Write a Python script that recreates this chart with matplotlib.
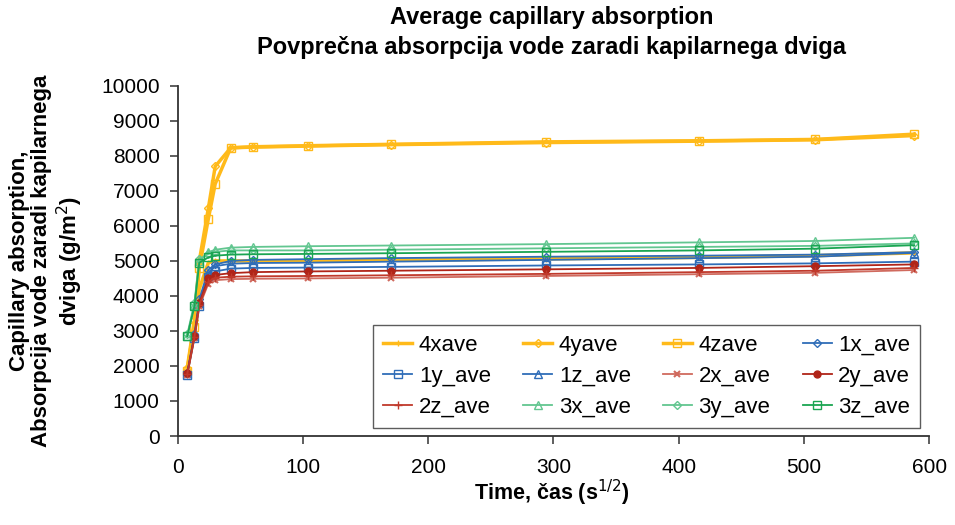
import numpy as np
import matplotlib.pyplot as plt

plt.rcParams['font.family'] = ['Liberation Sans', 'DejaVu Sans']

# time, sqrt(s)
t = [7.7, 13.4, 17.3, 24.5, 30, 42.4, 60, 104, 170, 294, 416, 509, 588]

s_4x = [1900, 3200, 4200, 4950, 5000, 5000, 5000, 5000, 5020, 5060, 5100, 5150, 5230]
s_4y = [1950, 3300, 5000, 6500, 7700, 8230, 8250, 8280, 8320, 8380, 8420, 8460, 8580]
s_4z = [1850, 3100, 4800, 6200, 7200, 8230, 8260, 8290, 8330, 8400, 8430, 8470, 8620]
s_1x = [1800, 2900, 3900, 4750, 4900, 5000, 5030, 5050, 5080, 5120, 5150, 5180, 5250]
s_1y = [1750, 2800, 3700, 4550, 4700, 4780, 4800, 4810, 4830, 4870, 4900, 4930, 4980]
s_1z = [1800, 2850, 3800, 4650, 4850, 4920, 4940, 4950, 4980, 5030, 5080, 5120, 5230]
s_2x = [1750, 2800, 3700, 4350, 4450, 4480, 4490, 4500, 4520, 4570, 4620, 4660, 4740]
s_2y = [1800, 2850, 3800, 4500, 4600, 4650, 4680, 4700, 4720, 4760, 4800, 4850, 4900]
s_2z = [1780, 2820, 3750, 4400, 4520, 4550, 4560, 4570, 4590, 4630, 4680, 4720, 4800]
s_3x = [2850, 3750, 5000, 5250, 5320, 5380, 5400, 5420, 5440, 5480, 5530, 5570, 5660]
s_3y = [2900, 3800, 5050, 5200, 5260, 5300, 5300, 5300, 5320, 5360, 5400, 5430, 5500]
s_3z = [2850, 3700, 4950, 5100, 5150, 5180, 5190, 5200, 5220, 5260, 5300, 5350, 5450]

names = ['4xave', '4yave', '4zave', '1x_ave', '1y_ave', '1z_ave',
         '2x_ave', '2y_ave', '2z_ave', '3x_ave', '3y_ave', '3z_ave']
series = [s_4x, s_4y, s_4z, s_1x, s_1y, s_1z, s_2x, s_2y, s_2z, s_3x, s_3y, s_3z]

orange = '#FFBA1A'
blue = '#2F6DB8'
red = '#C0392B'
green = '#1AA552'
lgreen = '#62C690'
styles = [
    dict(color=orange, lw=2.5, marker='|', ms=4),
    dict(color=orange, lw=2.5, marker='D', ms=4, mfc='none'),
    dict(color=orange, lw=2.5, marker='s', ms=6, mfc='none'),
    dict(color=blue, lw=1.3, marker='D', ms=4, mfc='none'),
    dict(color=blue, lw=1.3, marker='s', ms=6, mfc='none'),
    dict(color=blue, lw=1.3, marker='^', ms=6, mfc='none'),
    dict(color='#D06A5E', lw=1.3, marker='x', ms=4, mew=1.5),
    dict(color='#B02418', lw=1.3, marker='o', ms=5),
    dict(color=red, lw=1.3, marker='+', ms=6),
    dict(color=lgreen, lw=1.3, marker='^', ms=6, mfc='none'),
    dict(color=lgreen, lw=1.3, marker='D', ms=4, mfc='none'),
    dict(color=green, lw=1.3, marker='s', ms=6, mfc='none'),
]

fig = plt.figure(figsize=(9.55, 5.25), dpi=100)
ax = fig.add_axes([0.186, 0.1695, 0.787, 0.667])

handles = []
for name, s, st in zip(names, series, styles):
    h, = ax.plot(t, s, label=name, **st)
    handles.append(h)

ax.set_xlim(0, 600)
ax.set_ylim(0, 10000)
ax.set_xticks(np.arange(0, 601, 100))
ax.set_yticks(np.arange(0, 10001, 1000))
ax.spines['top'].set_visible(False)
ax.spines['right'].set_visible(False)
for sp in ['left', 'bottom']:
    ax.spines[sp].set_color('#333333')
    ax.spines[sp].set_linewidth(1.3)
ax.tick_params(labelsize=15, length=6, width=1.1, color='#333333')
ax.tick_params(axis='x', pad=10)
ax.tick_params(axis='y', pad=7)

fig.text(0.578, 0.061, 'Time, čas (s$^{1/2}$)', ha='center', va='center',
         fontsize=15.5, fontweight='bold')
fig.text(0.049, 0.503, 'Capillary absorption,\nAbsorpcija vode zaradi kapilarnega\ndviga (g/m$^2$)',
         rotation=90, ha='center', va='center', multialignment='center',
         fontsize=16, fontweight='bold', linespacing=1.1)
fig.text(0.578, 0.966, 'Average capillary absorption', ha='center', va='center',
         fontsize=17, fontweight='bold')
fig.text(0.578, 0.909, 'Povprečna absorpcija vode zaradi kapilarnega dviga', ha='center',
         va='center', fontsize=17, fontweight='bold')

# reorder so legend reads row by row
order = [r * 4 + c for c in range(4) for r in range(3)]
leg = ax.legend([handles[i] for i in order], [names[i] for i in order], ncol=4,
                loc='lower right', bbox_to_anchor=(0.988, 0.023), fontsize=16,
                frameon=True, fancybox=False, edgecolor='#333333',
                handlelength=1.3, handletextpad=0.3, columnspacing=1.45,
                borderpad=0.45, labelspacing=0.46, borderaxespad=0)
leg.get_frame().set_linewidth(1.0)

fig.savefig('out.png', dpi=100)
